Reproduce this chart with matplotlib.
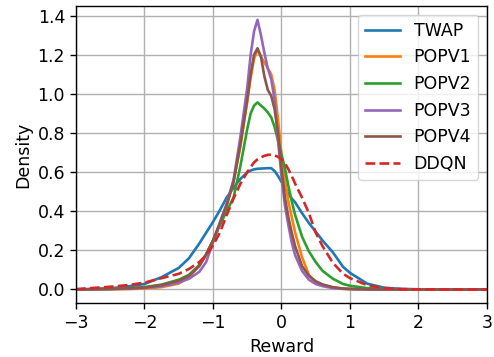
import numpy as np
import matplotlib
matplotlib.use("Agg")
import matplotlib.pyplot as plt

# reward grid
reward = [-3.0, -2.5, -2.25, -2.0, -1.75, -1.5, -1.35, -1.2, -1.1, -1.0,
          -0.9, -0.8, -0.7, -0.6, -0.5, -0.45, -0.4, -0.35, -0.3, -0.25,
          -0.2, -0.15, -0.1, -0.05, 0.0, 0.05, 0.1, 0.15, 0.2, 0.3,
          0.4, 0.5, 0.6, 0.75, 0.9, 1.0, 1.25, 1.5, 1.75, 2.0, 2.5, 3.0]

twap = [0.0, 0.006, 0.015, 0.028, 0.063, 0.11, 0.16, 0.235, 0.29, 0.345,
        0.405, 0.47, 0.52, 0.565, 0.598, 0.608, 0.614, 0.617, 0.618, 0.619,
        0.62, 0.62, 0.605, 0.58, 0.55, 0.52, 0.49, 0.465, 0.445, 0.39,
        0.34, 0.295, 0.25, 0.19, 0.115, 0.085, 0.03, 0.009, 0.003, 0.001, 0.0, 0.0]

popv1 = [0.0, 0.001, 0.002, 0.005, 0.012, 0.03, 0.065, 0.12, 0.175, 0.25,
         0.33, 0.43, 0.55, 0.73, 0.96, 1.08, 1.18, 1.225, 1.19, 1.16,
         1.13, 1.1, 1.02, 0.87, 0.69, 0.56, 0.45, 0.37, 0.29, 0.165,
         0.075, 0.036, 0.022, 0.01, 0.004, 0.002, 0.001, 0.0, 0.0, 0.0, 0.0, 0.0]

popv2 = [0.0, 0.003, 0.006, 0.012, 0.025, 0.05, 0.075, 0.125, 0.18, 0.25,
         0.33, 0.40, 0.47, 0.63, 0.82, 0.90, 0.94, 0.956, 0.94, 0.925,
         0.905, 0.88, 0.83, 0.76, 0.69, 0.62, 0.53, 0.45, 0.38, 0.27,
         0.195, 0.14, 0.095, 0.055, 0.028, 0.019, 0.007, 0.003, 0.001, 0.0, 0.0, 0.0]

popv3 = [0.0, 0.002, 0.004, 0.008, 0.016, 0.035, 0.055, 0.09, 0.14, 0.24,
         0.34, 0.44, 0.56, 0.78, 1.03, 1.2, 1.32, 1.378, 1.30, 1.21,
         1.13, 1.075, 0.97, 0.76, 0.58, 0.43, 0.33, 0.24, 0.175, 0.095,
         0.05, 0.028, 0.017, 0.007, 0.003, 0.002, 0.0, 0.0, 0.0, 0.0, 0.0, 0.0]

popv4 = [0.0, 0.003, 0.006, 0.01, 0.022, 0.045, 0.07, 0.12, 0.18, 0.25,
         0.34, 0.43, 0.55, 0.74, 0.97, 1.1, 1.2, 1.233, 1.19, 1.09,
         1.02, 0.99, 0.92, 0.80, 0.62, 0.47, 0.37, 0.29, 0.22, 0.12,
         0.07, 0.042, 0.026, 0.012, 0.005, 0.003, 0.001, 0.0, 0.0, 0.0, 0.0, 0.0]

ddqn = [0.002, 0.014, 0.022, 0.035, 0.058, 0.08, 0.105, 0.14, 0.175, 0.225,
        0.29, 0.38, 0.465, 0.54, 0.60, 0.625, 0.65, 0.665, 0.675, 0.683,
        0.688, 0.689, 0.685, 0.678, 0.665, 0.645, 0.615, 0.58, 0.54, 0.47,
        0.39, 0.29, 0.221, 0.136, 0.08, 0.058, 0.022, 0.007, 0.002, 0.0, 0.0, 0.0]

plt.rcParams['font.size'] = 12.5

fig = plt.figure(figsize=(4.94, 3.57), dpi=100)
ax = fig.add_axes([0.1538, 0.1513, 0.832, 0.832])

lw = 1.9
ax.plot(reward, twap, color='tab:blue', lw=lw, label='TWAP')
ax.plot(reward, popv1, color='tab:orange', lw=lw, label='POPV1')
ax.plot(reward, popv2, color='tab:green', lw=lw, label='POPV2')
ax.plot(reward, popv3, color='tab:purple', lw=lw, label='POPV3')
ax.plot(reward, popv4, color='tab:brown', lw=lw, label='POPV4')
ax.plot(reward, ddqn, color='tab:red', lw=lw, ls='--', label='DDQN')

ax.set_xlim(-3, 3)
ax.set_ylim(-0.069, 1.449)
ax.set_yticks(np.arange(0, 1.41, 0.2))
ax.grid(True, lw=1.0, color='#b0b0b0')
ax.tick_params(length=4.4, width=1.0)
for s in ax.spines.values():
    s.set_linewidth(1.0)
ax.set_xlabel('Reward')
ax.set_ylabel('Density')
ax.legend(loc='upper right')

fig.savefig('out.png', dpi=100)
